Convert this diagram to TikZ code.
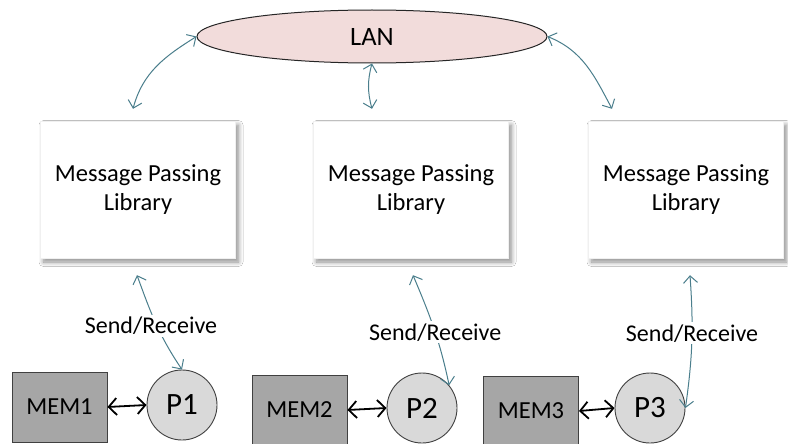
\documentclass[tikz,border=0pt]{standalone}
\usepackage{fontspec}
\setmainfont{Carlito}
\usetikzlibrary{arrows.meta,shapes.geometric,shadows.blur,calc}
\definecolor{teal1}{RGB}{74,126,140}
\definecolor{lanfill}{RGB}{242,220,219}
\definecolor{memfill}{RGB}{166,166,166}
\definecolor{pfill}{RGB}{217,217,217}
\definecolor{edgegray}{RGB}{64,64,64}
\tikzset{
  lan/.style={ellipse, draw=black!85, fill=lanfill, line width=1pt, minimum width=350pt, minimum height=53pt, inner sep=0pt, font=\fontsize{26.5}{32}\selectfont},
  libbox/.style={rectangle, draw=black!6, fill=white, minimum width=195pt, minimum height=137pt, align=center, font=\fontsize{24.5}{29.5}\selectfont,
     blur shadow={shadow xshift=3pt, shadow yshift=-4pt, shadow blur steps=10, shadow blur radius=4.5pt, shadow opacity=45}},
  membox/.style={rectangle, draw=edgegray, fill=memfill, line width=0.9pt, minimum width=95pt, minimum height=70pt, font=\fontsize{24.5}{29}\selectfont},
  proc/.style={circle, draw=edgegray, fill=pfill, line width=0.9pt, minimum size=70pt, inner sep=0pt, font=\fontsize{31}{36}\selectfont},
  tealarrow/.style={draw=teal1, line width=1pt, {Straight Barb[length=7pt,width=14pt]}-{Straight Barb[length=7pt,width=14pt]}},
  blackarrow/.style={draw=black, line width=1.8pt, {Straight Barb[length=8pt,width=17pt]}-{Straight Barb[length=8pt,width=17pt]}},
  srlabel/.style={fill=white, inner sep=2pt, font=\fontsize{24}{29}\selectfont}
}
\begin{document}
\begin{tikzpicture}[x=1pt,y=1pt]
\useasboundingbox (0,0) rectangle (788,-444);
\fill[white] (0,0) rectangle (788,-444);

\node[lan] (lan) at (372,-36.5) {LAN};

\node[libbox] (lib1) at (138,-189.5) {Message Passing\\Library};
\node[libbox] (lib2) at (411,-189.5) {Message Passing\\Library};
\node[libbox] (lib3) at (686,-189.5) {Message Passing\\Library};

\node[membox] (mem1) at (59.5,-407) {MEM1};
\node[membox] (mem2) at (299.5,-410) {MEM2};
\node[membox] (mem3) at (531,-411) {MEM3};

\node[proc] (p1) at (182,-405) {P1};
\node[proc] (p2) at (422,-408) {P2};
\node[proc] (p3) at (650,-408) {P3};

% LAN connectors
\draw[tealarrow] (lan.west) to[out=212, in=75] ($(lib1.north)+(-5,12)$);
\draw[tealarrow] (lan.south) to[bend right=15] ($(lib2.north)+(-39,12)$);
\draw[tealarrow] (lan.east) to[out=-22, in=118] ($(lib3.north)+(-74,12)$);

% Send/Receive connectors
\draw[tealarrow] ($(lib1.south)+(-1,-17)$) to[out=-70, in=124] node[srlabel, pos=0.52, xshift=-6pt] {Send/Receive} (p1.north);
\draw[tealarrow] ($(lib2.south)+(2,-17)$) to[out=-67, in=102] node[srlabel, pos=0.53] {Send/Receive} (p2.40);
\draw[tealarrow] ($(lib3.south)+(4,-17)$) to[out=-86, in=82] node[srlabel, pos=0.43] {Send/Receive} (p3.east);

% MEM <-> P
\draw[blackarrow] (mem1.east) -- (p1.west);
\draw[blackarrow] (mem2.east) -- (p2.west);
\draw[blackarrow] (mem3.east) -- (p3.west);
\end{tikzpicture}
\end{document}
